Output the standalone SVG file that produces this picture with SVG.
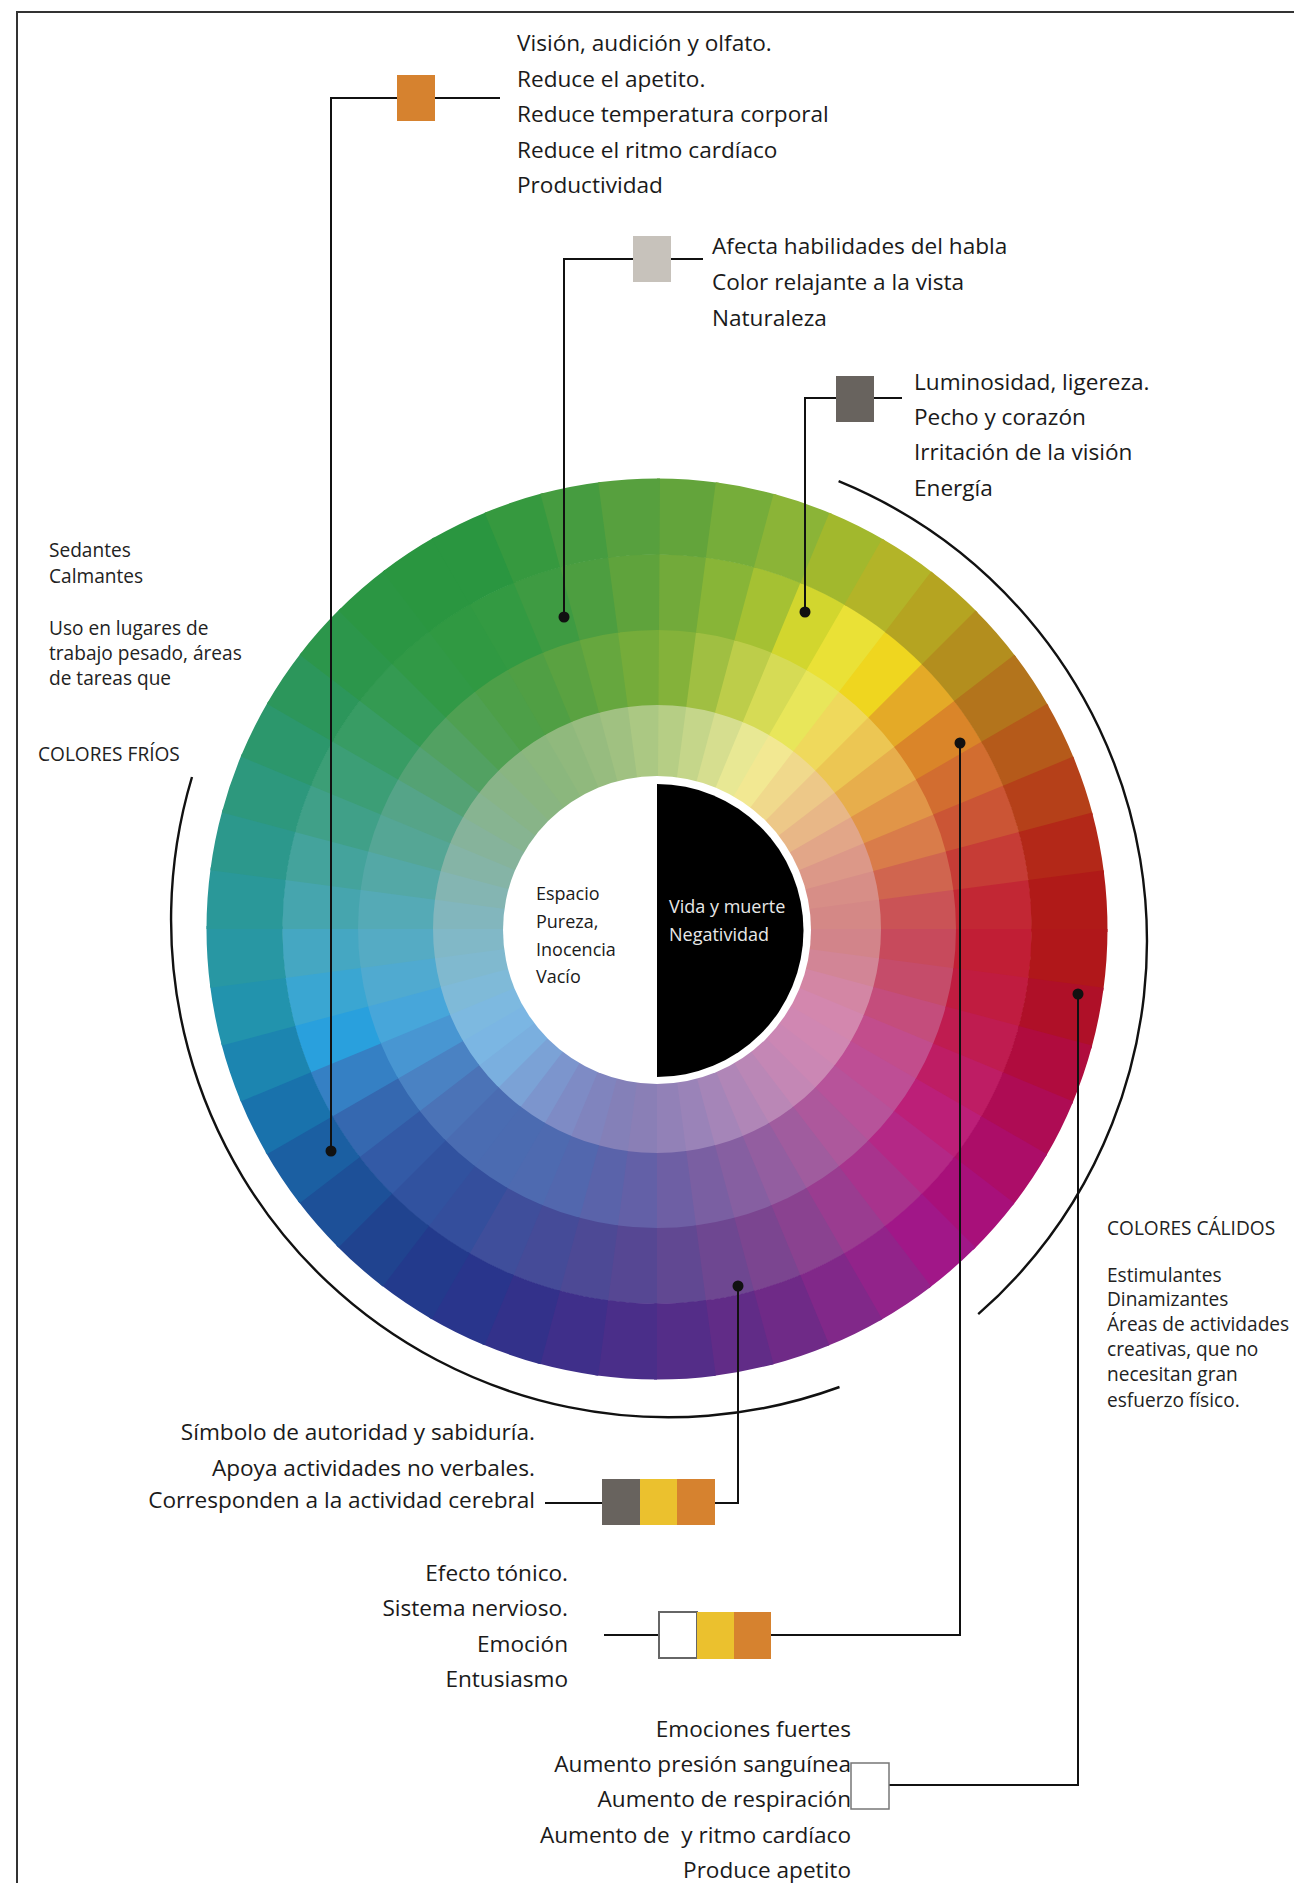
<svg xmlns="http://www.w3.org/2000/svg" xmlns:xlink="http://www.w3.org/1999/xlink" width="1294" height="1883" viewBox="0 0 1294 1883">
  <style>
    .t{font-family:"Open Sans","Noto Sans","DejaVu Sans",sans-serif;font-size:22.6px;fill:#1a1a1a}
    .e{text-anchor:end}
    .s{font-size:19.1px;fill:#222}
    .c{font-size:18px;fill:#1a1a1a}
    .w{fill:#e8e8e8}
    .ln{fill:none;stroke:#111;stroke-width:2}
    .arc{fill:none;stroke:#111;stroke-width:2.4}
    .dot{fill:#111}
  </style>
  <defs>
    <!-- one wheel sector = a 7.5 degree dash of a thick circle stroke -->
    <circle id="r1" r="412.5" pathLength="360" fill="none" stroke-width="76" stroke-dasharray="7.9 352.1"/>
    <circle id="r2" r="337" pathLength="360" fill="none" stroke-width="76" stroke-dasharray="7.9 352.1"/>
    <circle id="r3" r="262" pathLength="360" fill="none" stroke-width="76" stroke-dasharray="7.9 352.1"/>
    <circle id="r4" r="190" pathLength="360" fill="none" stroke-width="78" stroke-dasharray="7.9 352.1"/>
  </defs>

  <rect width="1294" height="1883" fill="#fff"/>
  <path id="frame" d="M17 1883V12H1294" fill="none" stroke="#333" stroke-width="2"/>

  <!-- colour wheel: four rings of 48 sectors, 0 deg at the top, clockwise -->
  <g id="color-wheel" transform="translate(657 929) rotate(-90)">
    <g id="ring-4">
      <use href="#r4" transform="rotate(0)" stroke="#B6CE85"/>
      <use href="#r4" transform="rotate(7.5)" stroke="#C5D68A"/>
      <use href="#r4" transform="rotate(15)" stroke="#D6DE8F"/>
      <use href="#r4" transform="rotate(22.5)" stroke="#E8E894"/>
      <use href="#r4" transform="rotate(30)" stroke="#F2E892"/>
      <use href="#r4" transform="rotate(37.5)" stroke="#F0D98C"/>
      <use href="#r4" transform="rotate(45)" stroke="#EDC888"/>
      <use href="#r4" transform="rotate(52.5)" stroke="#E8B787"/>
      <use href="#r4" transform="rotate(60)" stroke="#E2A688"/>
      <use href="#r4" transform="rotate(67.5)" stroke="#DC9888"/>
      <use href="#r4" transform="rotate(75)" stroke="#D78E87"/>
      <use href="#r4" transform="rotate(82.5)" stroke="#D48886"/>
      <use href="#r4" transform="rotate(90)" stroke="#D2848A"/>
      <use href="#r4" transform="rotate(97.5)" stroke="#D28596"/>
      <use href="#r4" transform="rotate(105)" stroke="#D386A4"/>
      <use href="#r4" transform="rotate(112.5)" stroke="#D387AE"/>
      <use href="#r4" transform="rotate(120)" stroke="#D087B2"/>
      <use href="#r4" transform="rotate(127.5)" stroke="#CB87B4"/>
      <use href="#r4" transform="rotate(135)" stroke="#C487B5"/>
      <use href="#r4" transform="rotate(142.5)" stroke="#BA87B6"/>
      <use href="#r4" transform="rotate(150)" stroke="#B086B7"/>
      <use href="#r4" transform="rotate(157.5)" stroke="#A585B8"/>
      <use href="#r4" transform="rotate(165)" stroke="#9A83B8"/>
      <use href="#r4" transform="rotate(172.5)" stroke="#9281B7"/>
      <use href="#r4" transform="rotate(180)" stroke="#8A7FB6"/>
      <use href="#r4" transform="rotate(187.5)" stroke="#8480B8"/>
      <use href="#r4" transform="rotate(195)" stroke="#8084BE"/>
      <use href="#r4" transform="rotate(202.5)" stroke="#7E8BC5"/>
      <use href="#r4" transform="rotate(210)" stroke="#7C95CD"/>
      <use href="#r4" transform="rotate(217.5)" stroke="#7BA2D6"/>
      <use href="#r4" transform="rotate(225)" stroke="#7AAFDF"/>
      <use href="#r4" transform="rotate(232.5)" stroke="#7BB6E3"/>
      <use href="#r4" transform="rotate(240)" stroke="#7DB9E0"/>
      <use href="#r4" transform="rotate(247.5)" stroke="#7FBAD8"/>
      <use href="#r4" transform="rotate(255)" stroke="#80B9CF"/>
      <use href="#r4" transform="rotate(262.5)" stroke="#81B8C7"/>
      <use href="#r4" transform="rotate(270)" stroke="#82B6BD"/>
      <use href="#r4" transform="rotate(277.5)" stroke="#84B5B2"/>
      <use href="#r4" transform="rotate(285)" stroke="#85B4A6"/>
      <use href="#r4" transform="rotate(292.5)" stroke="#86B39B"/>
      <use href="#r4" transform="rotate(300)" stroke="#87B491"/>
      <use href="#r4" transform="rotate(307.5)" stroke="#88B488"/>
      <use href="#r4" transform="rotate(315)" stroke="#89B581"/>
      <use href="#r4" transform="rotate(322.5)" stroke="#8BB77D"/>
      <use href="#r4" transform="rotate(330)" stroke="#90B97D"/>
      <use href="#r4" transform="rotate(337.5)" stroke="#97BC7F"/>
      <use href="#r4" transform="rotate(345)" stroke="#A0C181"/>
      <use href="#r4" transform="rotate(352.5)" stroke="#ABC883"/>
    </g>
    <g id="ring-3">
      <use href="#r3" transform="rotate(0)" stroke="#84B23A"/>
      <use href="#r3" transform="rotate(7.5)" stroke="#A0BF42"/>
      <use href="#r3" transform="rotate(15)" stroke="#BDCD4A"/>
      <use href="#r3" transform="rotate(22.5)" stroke="#D6DB55"/>
      <use href="#r3" transform="rotate(30)" stroke="#E8E65A"/>
      <use href="#r3" transform="rotate(37.5)" stroke="#EFD95C"/>
      <use href="#r3" transform="rotate(45)" stroke="#ECC653"/>
      <use href="#r3" transform="rotate(52.5)" stroke="#E7AE4C"/>
      <use href="#r3" transform="rotate(60)" stroke="#E19548"/>
      <use href="#r3" transform="rotate(67.5)" stroke="#D97C4A"/>
      <use href="#r3" transform="rotate(75)" stroke="#D0654F"/>
      <use href="#r3" transform="rotate(82.5)" stroke="#CA5356"/>
      <use href="#r3" transform="rotate(90)" stroke="#C74A5C"/>
      <use href="#r3" transform="rotate(97.5)" stroke="#C54C6A"/>
      <use href="#r3" transform="rotate(105)" stroke="#C44D7C"/>
      <use href="#r3" transform="rotate(112.5)" stroke="#C24D8C"/>
      <use href="#r3" transform="rotate(120)" stroke="#BE4E95"/>
      <use href="#r3" transform="rotate(127.5)" stroke="#B7539A"/>
      <use href="#r3" transform="rotate(135)" stroke="#AD589C"/>
      <use href="#r3" transform="rotate(142.5)" stroke="#A05C9E"/>
      <use href="#r3" transform="rotate(150)" stroke="#935EA0"/>
      <use href="#r3" transform="rotate(157.5)" stroke="#865FA1"/>
      <use href="#r3" transform="rotate(165)" stroke="#7A5FA2"/>
      <use href="#r3" transform="rotate(172.5)" stroke="#6E5FA4"/>
      <use href="#r3" transform="rotate(180)" stroke="#6360A7"/>
      <use href="#r3" transform="rotate(187.5)" stroke="#5A63AA"/>
      <use href="#r3" transform="rotate(195)" stroke="#5267AE"/>
      <use href="#r3" transform="rotate(202.5)" stroke="#4E6AB0"/>
      <use href="#r3" transform="rotate(210)" stroke="#4B6BB1"/>
      <use href="#r3" transform="rotate(217.5)" stroke="#4A6CB2"/>
      <use href="#r3" transform="rotate(225)" stroke="#4B73B7"/>
      <use href="#r3" transform="rotate(232.5)" stroke="#4A82C3"/>
      <use href="#r3" transform="rotate(240)" stroke="#4896D2"/>
      <use href="#r3" transform="rotate(247.5)" stroke="#47A6DA"/>
      <use href="#r3" transform="rotate(255)" stroke="#50AAD0"/>
      <use href="#r3" transform="rotate(262.5)" stroke="#55ABC4"/>
      <use href="#r3" transform="rotate(270)" stroke="#55AAB6"/>
      <use href="#r3" transform="rotate(277.5)" stroke="#54A8A6"/>
      <use href="#r3" transform="rotate(285)" stroke="#55A695"/>
      <use href="#r3" transform="rotate(292.5)" stroke="#55A488"/>
      <use href="#r3" transform="rotate(300)" stroke="#54A274"/>
      <use href="#r3" transform="rotate(307.5)" stroke="#52A162"/>
      <use href="#r3" transform="rotate(315)" stroke="#4FA052"/>
      <use href="#r3" transform="rotate(322.5)" stroke="#4D9F48"/>
      <use href="#r3" transform="rotate(330)" stroke="#509F44"/>
      <use href="#r3" transform="rotate(337.5)" stroke="#5AA241"/>
      <use href="#r3" transform="rotate(345)" stroke="#66A73E"/>
      <use href="#r3" transform="rotate(352.5)" stroke="#75AC3A"/>
    </g>
    <g id="ring-2">
      <use href="#r2" transform="rotate(0)" stroke="#72AA3A"/>
      <use href="#r2" transform="rotate(7.5)" stroke="#88B537"/>
      <use href="#r2" transform="rotate(15)" stroke="#A5C133"/>
      <use href="#r2" transform="rotate(22.5)" stroke="#D2D62E"/>
      <use href="#r2" transform="rotate(30)" stroke="#EAE136"/>
      <use href="#r2" transform="rotate(37.5)" stroke="#EFD61F"/>
      <use href="#r2" transform="rotate(45)" stroke="#E4AA27"/>
      <use href="#r2" transform="rotate(52.5)" stroke="#DA8529"/>
      <use href="#r2" transform="rotate(60)" stroke="#D26D30"/>
      <use href="#r2" transform="rotate(67.5)" stroke="#CB5535"/>
      <use href="#r2" transform="rotate(75)" stroke="#C63C36"/>
      <use href="#r2" transform="rotate(82.5)" stroke="#C22734"/>
      <use href="#r2" transform="rotate(90)" stroke="#C11E35"/>
      <use href="#r2" transform="rotate(97.5)" stroke="#C01C40"/>
      <use href="#r2" transform="rotate(105)" stroke="#BF1C50"/>
      <use href="#r2" transform="rotate(112.5)" stroke="#BE1D64"/>
      <use href="#r2" transform="rotate(120)" stroke="#BC1F78"/>
      <use href="#r2" transform="rotate(127.5)" stroke="#B42886"/>
      <use href="#r2" transform="rotate(135)" stroke="#A8338D"/>
      <use href="#r2" transform="rotate(142.5)" stroke="#9A3C90"/>
      <use href="#r2" transform="rotate(150)" stroke="#8A4290"/>
      <use href="#r2" transform="rotate(157.5)" stroke="#7B4590"/>
      <use href="#r2" transform="rotate(165)" stroke="#6E4791"/>
      <use href="#r2" transform="rotate(172.5)" stroke="#614892"/>
      <use href="#r2" transform="rotate(180)" stroke="#564793"/>
      <use href="#r2" transform="rotate(187.5)" stroke="#4D4995"/>
      <use href="#r2" transform="rotate(195)" stroke="#454B98"/>
      <use href="#r2" transform="rotate(202.5)" stroke="#3F4E9B"/>
      <use href="#r2" transform="rotate(210)" stroke="#344E9C"/>
      <use href="#r2" transform="rotate(217.5)" stroke="#31529F"/>
      <use href="#r2" transform="rotate(225)" stroke="#335AA6"/>
      <use href="#r2" transform="rotate(232.5)" stroke="#3568B0"/>
      <use href="#r2" transform="rotate(240)" stroke="#3580C4"/>
      <use href="#r2" transform="rotate(247.5)" stroke="#29A0DD"/>
      <use href="#r2" transform="rotate(255)" stroke="#3AA6D2"/>
      <use href="#r2" transform="rotate(262.5)" stroke="#45A7C2"/>
      <use href="#r2" transform="rotate(270)" stroke="#46A5AE"/>
      <use href="#r2" transform="rotate(277.5)" stroke="#44A39C"/>
      <use href="#r2" transform="rotate(285)" stroke="#40A088"/>
      <use href="#r2" transform="rotate(292.5)" stroke="#3C9E76"/>
      <use href="#r2" transform="rotate(300)" stroke="#389C64"/>
      <use href="#r2" transform="rotate(307.5)" stroke="#349A52"/>
      <use href="#r2" transform="rotate(315)" stroke="#319946"/>
      <use href="#r2" transform="rotate(322.5)" stroke="#309942"/>
      <use href="#r2" transform="rotate(330)" stroke="#339A42"/>
      <use href="#r2" transform="rotate(337.5)" stroke="#3E9B42"/>
      <use href="#r2" transform="rotate(345)" stroke="#4D9E40"/>
      <use href="#r2" transform="rotate(352.5)" stroke="#5FA33C"/>
    </g>
    <g id="ring-1">
      <use href="#r1" transform="rotate(0)" stroke="#63A43B"/>
      <use href="#r1" transform="rotate(7.5)" stroke="#76AD3A"/>
      <use href="#r1" transform="rotate(15)" stroke="#8BB437"/>
      <use href="#r1" transform="rotate(22.5)" stroke="#A2B82D"/>
      <use href="#r1" transform="rotate(30)" stroke="#B3B428"/>
      <use href="#r1" transform="rotate(37.5)" stroke="#B5A421"/>
      <use href="#r1" transform="rotate(45)" stroke="#B38E1E"/>
      <use href="#r1" transform="rotate(52.5)" stroke="#B3741C"/>
      <use href="#r1" transform="rotate(60)" stroke="#B55A1A"/>
      <use href="#r1" transform="rotate(67.5)" stroke="#B54019"/>
      <use href="#r1" transform="rotate(75)" stroke="#B32818"/>
      <use href="#r1" transform="rotate(82.5)" stroke="#B01A18"/>
      <use href="#r1" transform="rotate(90)" stroke="#B0171A"/>
      <use href="#r1" transform="rotate(97.5)" stroke="#AF1028"/>
      <use href="#r1" transform="rotate(105)" stroke="#B00C3E"/>
      <use href="#r1" transform="rotate(112.5)" stroke="#AE0C54"/>
      <use href="#r1" transform="rotate(120)" stroke="#AC0D68"/>
      <use href="#r1" transform="rotate(127.5)" stroke="#A8107A"/>
      <use href="#r1" transform="rotate(135)" stroke="#A11788"/>
      <use href="#r1" transform="rotate(142.5)" stroke="#92238A"/>
      <use href="#r1" transform="rotate(150)" stroke="#812889"/>
      <use href="#r1" transform="rotate(157.5)" stroke="#6F2A87"/>
      <use href="#r1" transform="rotate(165)" stroke="#612C87"/>
      <use href="#r1" transform="rotate(172.5)" stroke="#542D88"/>
      <use href="#r1" transform="rotate(180)" stroke="#4A2E89"/>
      <use href="#r1" transform="rotate(187.5)" stroke="#3F2F8A"/>
      <use href="#r1" transform="rotate(195)" stroke="#33318A"/>
      <use href="#r1" transform="rotate(202.5)" stroke="#29358C"/>
      <use href="#r1" transform="rotate(210)" stroke="#233A8C"/>
      <use href="#r1" transform="rotate(217.5)" stroke="#20438F"/>
      <use href="#r1" transform="rotate(225)" stroke="#1D5098"/>
      <use href="#r1" transform="rotate(232.5)" stroke="#1B5FA2"/>
      <use href="#r1" transform="rotate(240)" stroke="#1972AC"/>
      <use href="#r1" transform="rotate(247.5)" stroke="#1C85B0"/>
      <use href="#r1" transform="rotate(255)" stroke="#2293AD"/>
      <use href="#r1" transform="rotate(262.5)" stroke="#2897A3"/>
      <use href="#r1" transform="rotate(270)" stroke="#2A9899"/>
      <use href="#r1" transform="rotate(277.5)" stroke="#2C988C"/>
      <use href="#r1" transform="rotate(285)" stroke="#2D987D"/>
      <use href="#r1" transform="rotate(292.5)" stroke="#2C976C"/>
      <use href="#r1" transform="rotate(300)" stroke="#2C965B"/>
      <use href="#r1" transform="rotate(307.5)" stroke="#2C964B"/>
      <use href="#r1" transform="rotate(315)" stroke="#2B9643"/>
      <use href="#r1" transform="rotate(322.5)" stroke="#2A9640"/>
      <use href="#r1" transform="rotate(330)" stroke="#2A9640"/>
      <use href="#r1" transform="rotate(337.5)" stroke="#36993F"/>
      <use href="#r1" transform="rotate(345)" stroke="#469C40"/>
      <use href="#r1" transform="rotate(352.5)" stroke="#57A03E"/>
    </g>
  </g>

  <!-- centre: white / black halves -->
  <g id="node-center">
    <circle cx="657" cy="930" r="154" fill="#fff"/>
    <path d="M657 784A146.5 146.5 0 0 1 657 1077Z" fill="#000"/>
    <text class="t c" x="536" y="900">Espacio</text>
    <text class="t c" x="536" y="928">Pureza,</text>
    <text class="t c" x="536" y="956">Inocencia</text>
    <text class="t c" x="536" y="983">Vacío</text>
    <text class="t c w" x="669" y="913">Vida y muerte</text>
    <text class="t c w" x="669" y="941">Negatividad</text>
  </g>

  <!-- brackets for the cool and warm halves -->
  <g id="range-arcs">
    <path class="arc" d="M192 777A497.5 497.5 0 0 0 839.5 1387"/>
    <path class="arc" d="M838.6 481.2A497 497 0 0 1 978.2 1314.2"/>
  </g>

  <g id="connectors">
    <path class="ln" d="M500 98H331V1151"/>
    <path class="ln" d="M703 259H564V617"/>
    <path class="ln" d="M902 398H805V612"/>
    <path class="ln" d="M545 1503H602M715 1503H738V1286"/>
    <path class="ln" d="M604 1635H659M771 1635H960V743"/>
    <path class="ln" d="M889 1785H1078V994"/>
    <circle class="dot" cx="331" cy="1151" r="5.5"/>
    <circle class="dot" cx="564" cy="617" r="5.5"/>
    <circle class="dot" cx="805" cy="612" r="5.5"/>
    <circle class="dot" cx="738" cy="1286" r="5.5"/>
    <circle class="dot" cx="960" cy="743" r="5.5"/>
    <circle class="dot" cx="1078" cy="994" r="5.5"/>
  </g>

  <g id="node-orange">
    <rect x="397" y="75" width="38" height="46" fill="#D6822F"/>
    <text class="t" x="517" y="51">Visión, audición y olfato.</text>
    <text class="t" x="517" y="87">Reduce el apetito.</text>
    <text class="t" x="517" y="122">Reduce temperatura corporal</text>
    <text class="t" x="517" y="158">Reduce el ritmo cardíaco</text>
    <text class="t" x="517" y="193">Productividad</text>
  </g>

  <g id="node-green">
    <rect x="633" y="236" width="38" height="46" fill="#C7C2BB"/>
    <text class="t" x="712" y="254">Afecta habilidades del habla</text>
    <text class="t" x="712" y="290">Color relajante a la vista</text>
    <text class="t" x="712" y="326">Naturaleza</text>
  </g>

  <g id="node-yellow">
    <rect x="836" y="376" width="38" height="46" fill="#68635E"/>
    <text class="t" x="914" y="390">Luminosidad, ligereza.</text>
    <text class="t" x="914" y="425">Pecho y corazón</text>
    <text class="t" x="914" y="460">Irritación de la visión</text>
    <text class="t" x="914" y="496">Energía</text>
  </g>

  <g id="node-violet">
    <rect x="602" y="1479" width="38" height="46" fill="#68635E"/>
    <rect x="640" y="1479" width="38" height="46" fill="#EBC12E"/>
    <rect x="677" y="1479" width="38" height="46" fill="#D6822F"/>
    <text class="t e" x="535" y="1440">Símbolo de autoridad y sabiduría.</text>
    <text class="t e" x="535" y="1476">Apoya actividades no verbales.</text>
    <text class="t e" x="535" y="1508">Corresponden a la actividad cerebral</text>
  </g>

  <g id="node-orange-red">
    <rect x="659" y="1612" width="38" height="46" fill="#fff" stroke="#666" stroke-width="2"/>
    <rect x="697" y="1612" width="38" height="47" fill="#EBC12E"/>
    <rect x="734" y="1612" width="37" height="47" fill="#D6822F"/>
    <text class="t e" x="568" y="1581">Efecto tónico.</text>
    <text class="t e" x="568" y="1616">Sistema nervioso.</text>
    <text class="t e" x="568" y="1652">Emoción</text>
    <text class="t e" x="568" y="1687">Entusiasmo</text>
  </g>

  <g id="node-red">
    <rect x="851" y="1763" width="38" height="46" fill="#fff" stroke="#777" stroke-width="1.5"/>
    <text class="t e" x="851" y="1737">Emociones fuertes</text>
    <text class="t e" x="851" y="1772">Aumento presión sanguínea</text>
    <text class="t e" x="851" y="1807">Aumento de respiración</text>
    <text class="t e" x="851" y="1843">Aumento de&#160; y ritmo cardíaco</text>
    <text class="t e" x="851" y="1878">Produce apetito</text>
  </g>

  <g id="node-cool">
    <text class="t s" x="49" y="557">Sedantes</text>
    <text class="t s" x="49" y="583">Calmantes</text>
    <text class="t s" x="49" y="635">Uso en lugares de</text>
    <text class="t s" x="49" y="660">trabajo pesado, áreas</text>
    <text class="t s" x="49" y="685">de tareas que</text>
    <text class="t s" x="38" y="761">COLORES FRÍOS</text>
  </g>

  <g id="node-warm">
    <text class="t s" x="1107" y="1235">COLORES CÁLIDOS</text>
    <text class="t s" x="1107" y="1282">Estimulantes</text>
    <text class="t s" x="1107" y="1306">Dinamizantes</text>
    <text class="t s" x="1107" y="1331">Áreas de actividades</text>
    <text class="t s" x="1107" y="1356">creativas, que no</text>
    <text class="t s" x="1107" y="1381">necesitan gran</text>
    <text class="t s" x="1107" y="1407">esfuerzo físico.</text>
  </g>
</svg>
